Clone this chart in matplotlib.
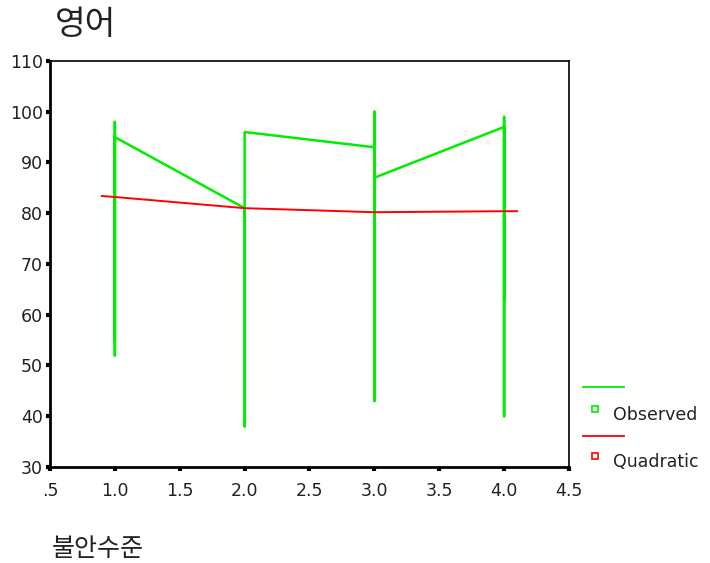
"""Curve estimation plot: observed English scores vs. anxiety level with quadratic fit."""

import matplotlib.pyplot as plt
from matplotlib.lines import Line2D

plt.rcParams["font.family"] = ["DejaVu Sans", "Noto Sans CJK KR"]

# observed scores, in case order (sorted by anxiety level)
obs_x = [1, 1, 1, 1, 2, 2, 2, 3, 3, 3, 3, 4, 4, 4, 4]
obs_y = [55, 98, 52, 95, 81, 38, 96, 93, 43, 100, 87, 97, 40, 99, 63]

# quadratic fit evaluated over the plotted range
fit_x = [0.9, 1.0, 2.0, 3.0, 4.0, 4.1]
fit_y = [83.4, 83.2, 81.0, 80.2, 80.4, 80.4]

x_ticks = [0.5, 1.0, 1.5, 2.0, 2.5, 3.0, 3.5, 4.0, 4.5]
x_tick_labels = [".5", "1.0", "1.5", "2.0", "2.5", "3.0", "3.5", "4.0", "4.5"]
y_ticks = [30, 40, 50, 60, 70, 80, 90, 100, 110]

GREEN = "#00ee00"
RED = "#ff0000"
KOREAN = ["Noto Sans CJK KR", "DejaVu Sans"]

fig = plt.figure(figsize=(7.1, 5.63), dpi=100)
ax = fig.add_axes([0.0704, 0.1705, 0.731, 0.7212])

ax.plot(obs_x, obs_y, color=GREEN, lw=1.8)
ax.plot(fit_x, fit_y, color=RED, lw=1.4)

ax.set_xlim(0.5, 4.5)
ax.set_ylim(30, 110)
ax.set_xticks(x_ticks)
ax.set_xticklabels(x_tick_labels)
ax.set_yticks(y_ticks)
ax.tick_params(direction="out", length=3, width=3, labelsize=12.5, colors="black",
               labelcolor="#222222")
ax.tick_params(axis="x", pad=8)
ax.tick_params(axis="y", pad=2)
for side in ["top", "right"]:
    ax.spines[side].set_linewidth(1.2)
for side in ["left", "bottom"]:
    ax.spines[side].set_linewidth(2)

fig.text(0.077, 0.94, "영어", fontsize=24, ha="left", va="baseline",
         color="#222222", family=KOREAN)
fig.text(0.073, 0.013, "불안수준", fontsize=18, ha="left", va="baseline",
         color="#222222", family=KOREAN)

# legend drawn beside the plot: line row, then marker + label row
for y_line, y_mark, color, label in [(0.313, 0.254, GREEN, "Observed"),
                                     (0.226, 0.17, RED, "Quadratic")]:
    fig.add_artist(Line2D([0.821, 0.879], [y_line, y_line], color=color, lw=1.3))
    fig.add_artist(Line2D([0.838], [y_mark + 0.02], marker="s", ms=5, mfc="white",
                          mec=color, mew=1.2, ls="none"))
    fig.text(0.864, y_mark, label, fontsize=12.5, ha="left", va="baseline",
             color="#222222")

fig.savefig("out.png", dpi=100)
